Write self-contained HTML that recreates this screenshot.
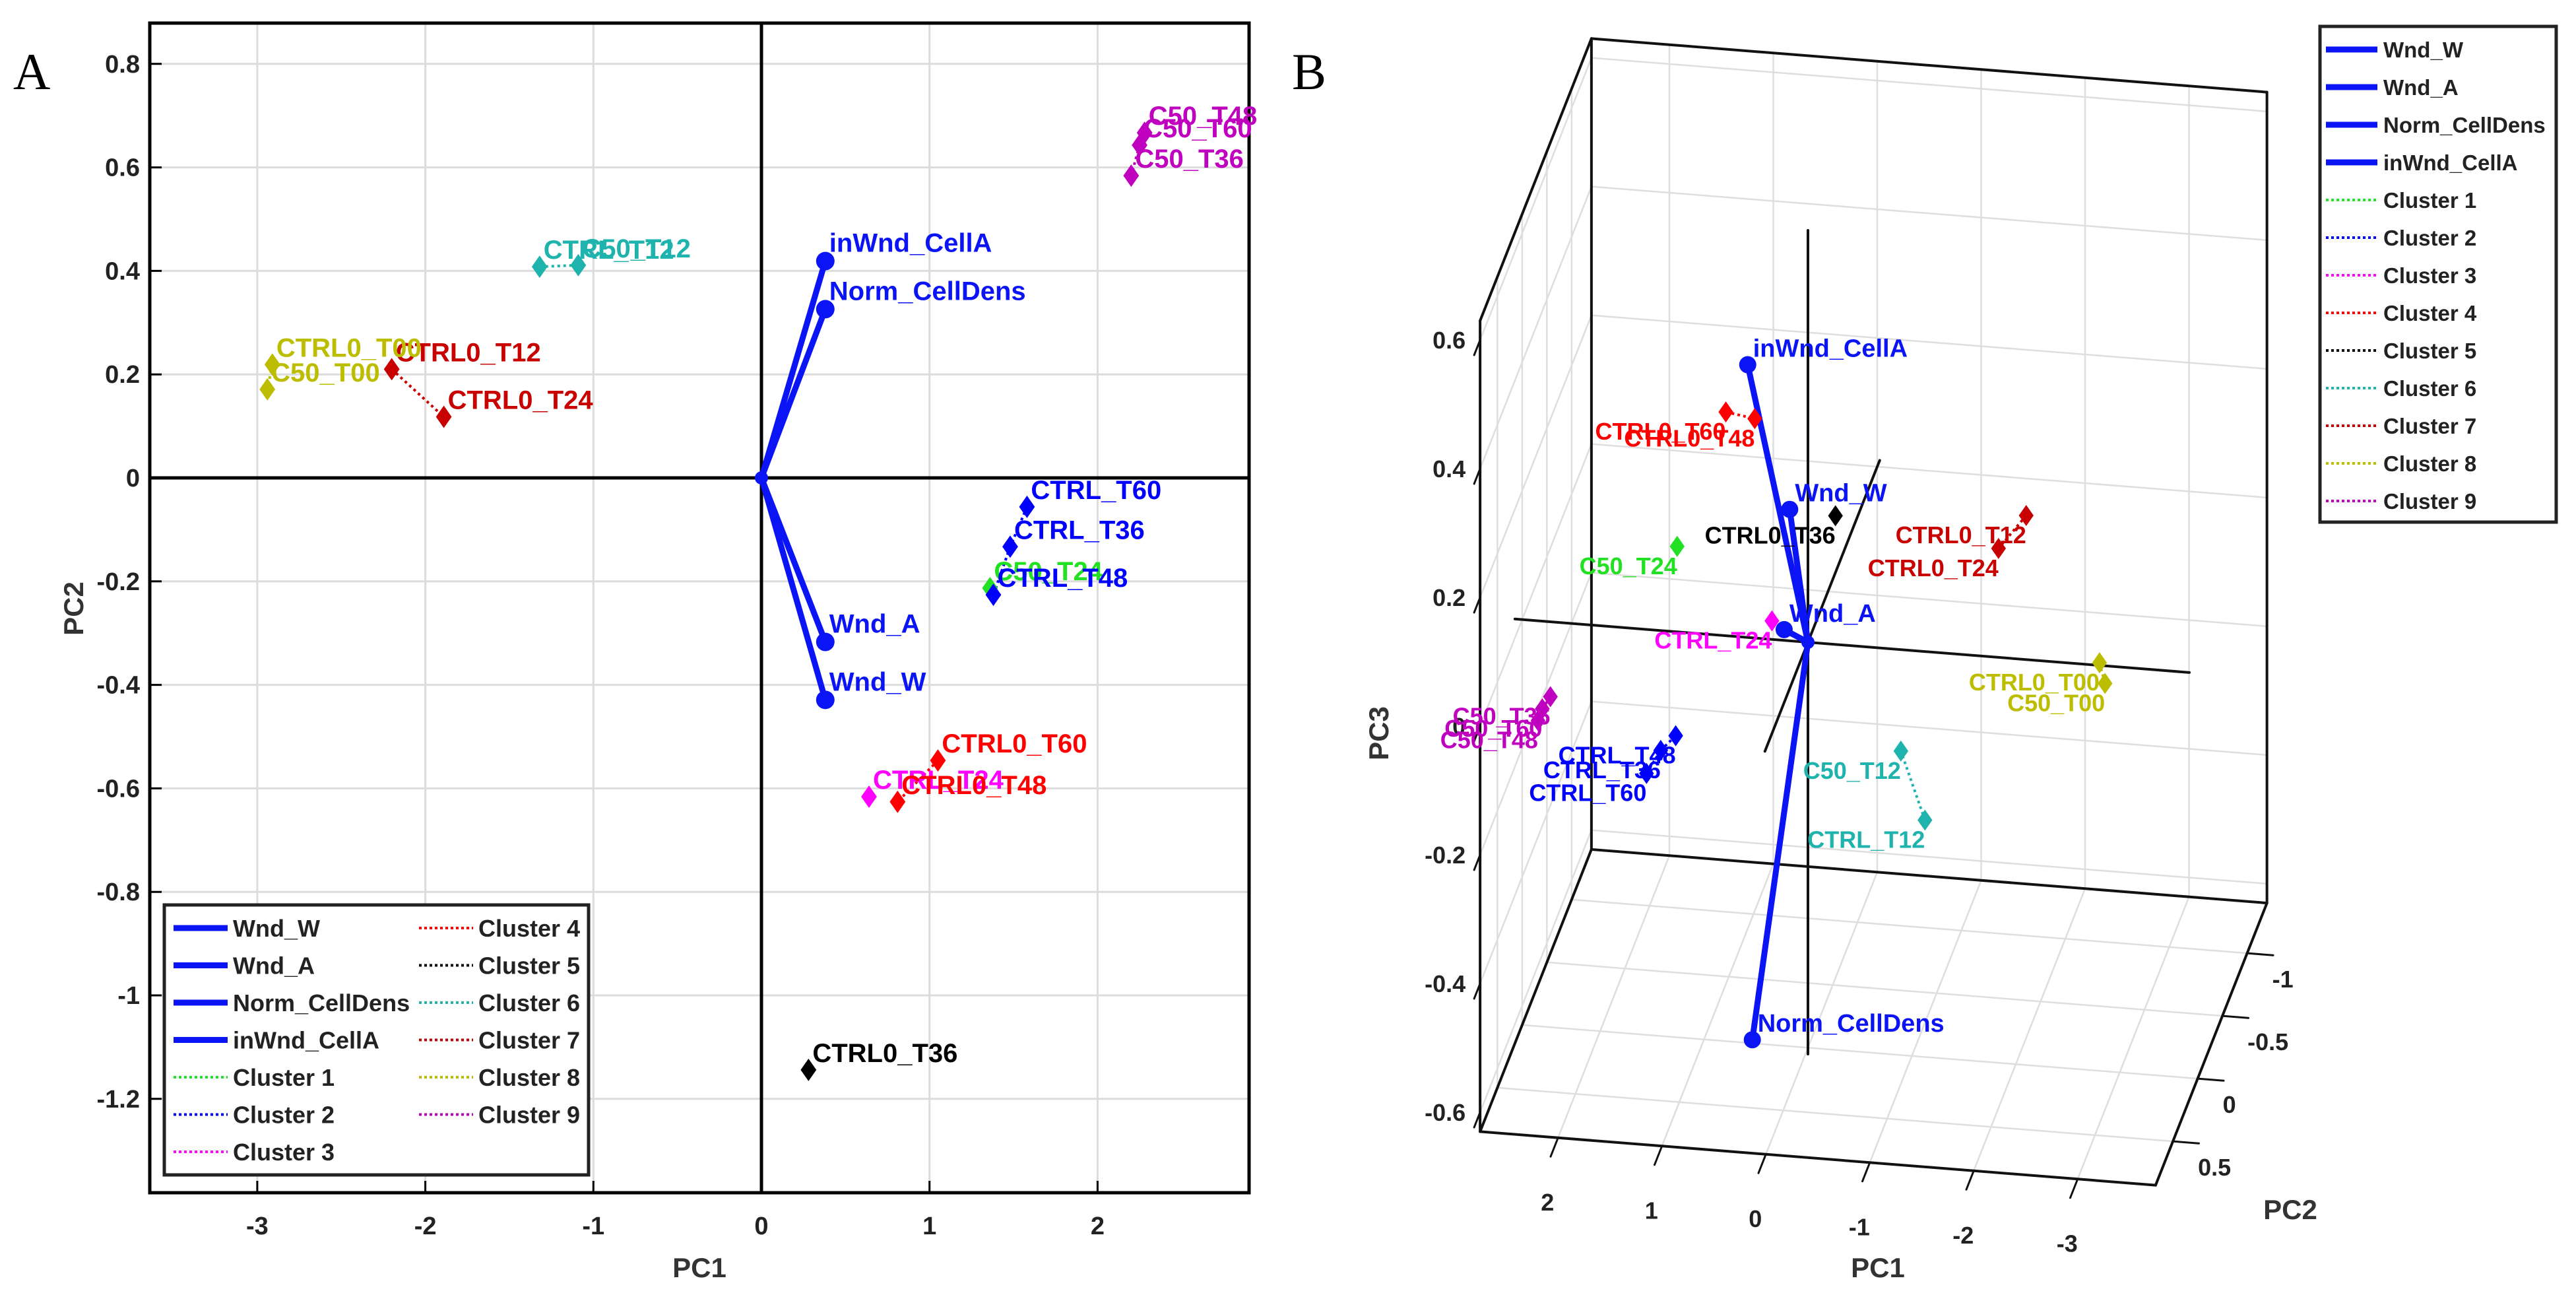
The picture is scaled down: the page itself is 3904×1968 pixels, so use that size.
<!DOCTYPE html>
<html><head><meta charset="utf-8"><style>
html,body{margin:0;padding:0;background:#fff;}
svg{display:block;font-family:"Liberation Sans",sans-serif;}
</style></head><body>
<svg id="chart" width="3904" height="1968" viewBox="0 0 3904 1968" xmlns="http://www.w3.org/2000/svg">
<rect x="0" y="0" width="3904" height="1968" fill="#fff"/>
<text x="20" y="135" font-family="Liberation Serif,serif" font-size="78">A</text>
<text x="1958" y="135" font-family="Liberation Serif,serif" font-size="78">B</text>
</svg>
<script>
// ---------- data ----------
const sampleNames   = ["C50_T24","CTRL_T60","CTRL_T36","CTRL_T48","CTRL_T24","CTRL0_T60","CTRL0_T48","CTRL0_T36","CTRL_T12","C50_T12","CTRL0_T12","CTRL0_T24","CTRL0_T00","C50_T00","C50_T48","C50_T60","C50_T36"];
const sampleCluster = [1,2,2,2,3,4,4,5,6,6,7,7,8,8,9,9,9];
const samplePC1     = [1.36,1.58,1.48,1.38,0.64,1.05,0.81,0.28,-1.32,-1.09,-2.2,-1.89,-2.91,-2.94,2.28,2.25,2.2];
const samplePC2     = [-0.213,-0.056,-0.133,-0.226,-0.616,-0.546,-0.626,-1.144,0.408,0.411,0.21,0.118,0.219,0.171,0.667,0.643,0.584];
const samplePC3     = [0.09,-0.235,-0.213,-0.207,-0.095,0.238,0.215,-0.03,-0.18,-0.075,0.266,0.193,0.048,0.007,-0.021,-0.007,0.001];
const loadingNames  = ["Wnd_W","Wnd_A","Norm_CellDens","inWnd_CellA"];
const loadingPC1    = [0.38,0.38,0.38,0.38];
const loadingPC2    = [-0.429,-0.317,0.326,0.419];
const loadingPC3    = [0.118,-0.047,-0.559,0.508];
const clusterLabels = ["Cluster 1","Cluster 2","Cluster 3","Cluster 4","Cluster 5","Cluster 6","Cluster 7","Cluster 8","Cluster 9"];
const xTicksA = [-3,-2,-1,0,1,2];
const yTicksA = [-1.2,-1,-0.8,-0.6,-0.4,-0.2,0,0.2,0.4,0.6,0.8];
const xTicksB = [-3,-2,-1,0,1,2];
const yTicksB = [-1,-0.5,0,0.5];
const zTicksB = [-0.6,-0.4,-0.2,0,0.2,0.4,0.6];

// palette
const clusterColors = ["#22e022","#0000ff","#ff00ff","#ff0000","#000000","#1fb3ad","#c80000","#bdbd00","#bf00bf"];
const loadColor = "#0a14f5";

const NS = "http://www.w3.org/2000/svg";
const svg = document.getElementById("chart");
function mk(tag, attrs, parent) {
  const e = document.createElementNS(NS, tag);
  for (const k in attrs) e.setAttribute(k, attrs[k]);
  (parent || svg).appendChild(e);
  return e;
}
function fmt(v){ return (Math.round(v*10)/10).toString(); }

// ================= PANEL A =================
const A = {l:227, r:1893, t:35, b:1807};
function xA(v){ return 1154 + 254.7*v; }
function yA(v){ return 724 - 784*v; }
const gA = mk("g", {});



xTicksA.forEach(v => {
  const g = mk("line", {x1:xA(v), x2:xA(v), y1:A.t, y2:A.b, stroke:"#dcdcdc", "stroke-width":3}, gA);
  
  
  const tk = mk("line", {x1:xA(v), x2:xA(v), y1:A.b, y2:A.b-18, stroke:"#000", "stroke-width":3}, gA);
  
  
  const t = mk("text", {x:xA(v), y:1870, "text-anchor":"middle", "font-size":38, "font-weight":"bold", fill:"#222"}, gA);
  t.textContent = fmt(v);
  
  
});
yTicksA.forEach(v => {
  const g = mk("line", {x1:A.l, x2:A.r, y1:yA(v), y2:yA(v), stroke:"#dcdcdc", "stroke-width":3}, gA);
  
  
  const tk = mk("line", {x1:A.l, x2:A.l+18, y1:yA(v), y2:yA(v), stroke:"#000", "stroke-width":3}, gA);
  
  
  const t = mk("text", {x:212, y:yA(v)+13, "text-anchor":"end", "font-size":38, "font-weight":"bold", fill:"#222"}, gA);
  t.textContent = fmt(v);
  
  
});
const zx = mk("line", {x1:A.l, x2:A.r, y1:yA(0), y2:yA(0), stroke:"#000", "stroke-width":5}, gA);


const zy = mk("line", {x1:xA(0), x2:xA(0), y1:A.t, y2:A.b, stroke:"#000", "stroke-width":5}, gA);


const boxA = mk("rect", {x:A.l, y:A.t, width:A.r-A.l, height:A.b-A.t, fill:"none", stroke:"#000", "stroke-width":5}, gA);


const xlab = mk("text", {x:1060, y:1935, "text-anchor":"middle", "font-size":42, "font-weight":"bold", fill:"#333"}, gA);
xlab.textContent = "PC1";


const ylab = mk("text", {x:0, y:0, "text-anchor":"middle", "font-size":42, "font-weight":"bold", fill:"#333", transform:"translate(126,922) rotate(-90)"}, gA);
ylab.textContent = "PC2";



function diamond(cx, cy, s, color, parent) {
  return mk("polygon", {points:`${cx},${cy-s} ${cx+s*0.7},${cy} ${cx},${cy+s} ${cx-s*0.7},${cy}`, fill:color}, parent);
}
function clusterLines(px, py, parent) {
  for (let c = 1; c <= 9; c++) {
    const idx = sampleCluster.map((k,i)=>k===c?i:-1).filter(i=>i>=0);
    for (let j = 1; j < idx.length; j++) {
      const l = mk("line", {x1:px(idx[j-1]), y1:py(idx[j-1]), x2:px(idx[j]), y2:py(idx[j]), stroke:clusterColors[c-1], "stroke-width":4, "stroke-dasharray":"4,5"}, parent);
      
      
    }
  }
}
// loadings A
loadingNames.forEach((n,i) => {
  const l = mk("line", {x1:xA(0), y1:yA(0), x2:xA(loadingPC1[i]), y2:yA(loadingPC2[i]), stroke:loadColor, "stroke-width":9, "stroke-linecap":"round"}, gA);
  
  
  const d = mk("circle", {cx:xA(loadingPC1[i]), cy:yA(loadingPC2[i]), r:14, fill:loadColor}, gA);
  
  
  const t = mk("text", {x:xA(loadingPC1[i])+6, y:yA(loadingPC2[i])-14, "font-size":40, "font-weight":"bold", fill:loadColor}, gA);
  t.textContent = n;
  
  
});
const o1 = mk("circle", {cx:xA(0), cy:yA(0), r:10, fill:loadColor}, gA);


clusterLines(i=>xA(samplePC1[i]), i=>yA(samplePC2[i]), gA);
sampleNames.forEach((n,i) => {
  const col = clusterColors[sampleCluster[i]-1];
  const d = diamond(xA(samplePC1[i]), yA(samplePC2[i]), 17, col, gA);
  
  
  const t = mk("text", {x:xA(samplePC1[i])+6, y:yA(samplePC2[i])-12, "font-size":40, "font-weight":"bold", fill:col}, gA);
  t.textContent = n;
  
  
});
// legend A
const legA = mk("g", {});


const lbA = mk("rect", {x:249, y:1371, width:643, height:409, fill:"#fff", stroke:"#222", "stroke-width":5}, legA);


const legItemsA = loadingNames.concat(clusterLabels);
legItemsA.forEach((n,i) => {
  const col = i < 7 ? 0 : 1;
  const row = i < 7 ? i : i - 7;
  const y = 1406 + row*56.5;
  const lx = col ? 635 : 263;
  const isLoad = i < 4;
  const color = isLoad ? loadColor : clusterColors[i-4];
  const l = mk("line", {x1:lx, x2:lx+82, y1:y, y2:y, stroke:color, "stroke-width":isLoad?9:4, "stroke-dasharray":isLoad?"none":"4,4"}, legA);
  
  
  const t = mk("text", {x:lx+90, y:y+13, "font-size":36, "font-weight":"bold", fill:"#222"}, legA);
  t.textContent = n;
  
  
});

// ================= PANEL B (3D) =================
const xr = [-3.75, 2.75], yr = [-1.4, 0.85], zr = [-0.63, 0.63];
function P(x,y,z){ return [2740 - 157.5*x - 75*y, 973 - 12.5*x + 190*y - 975*z]; }
const gB = mk("g", {});


function seg(a, b, stroke, w, name, parent) {
  const pa = P(...a), pb = P(...b);
  const l = mk("line", {x1:pa[0], y1:pa[1], x2:pb[0], y2:pb[1], stroke:stroke, "stroke-width":w, "stroke-linecap":"round"}, parent||gB);
  
  
  return l;
}
const [x0,x1] = xr, [y0,y1] = yr, [z0,z1] = zr;
const gc = "#dedede";
xTicksB.forEach(v => { seg([v,y0,z0],[v,y0,z1],gc,2.5,'back-wall-gridline'); seg([v,y0,z0],[v,y1,z0],gc,2.5,'floor-gridline'); });
zTicksB.forEach(v => { seg([x0,y0,v],[x1,y0,v],gc,2.5,'back-wall-gridline'); seg([x1,y0,v],[x1,y1,v],gc,2.5,'side-wall-gridline'); });
yTicksB.forEach(v => { seg([x1,v,z0],[x1,v,z1],gc,2.5,'side-wall-gridline'); seg([x0,v,z0],[x1,v,z0],gc,2.5,'floor-gridline'); });
// box edges
[[[x1,y0,z0],[x0,y0,z0]],[[x0,y0,z0],[x0,y0,z1]],[[x0,y0,z1],[x1,y0,z1]],[[x1,y0,z1],[x1,y0,z0]],
 [[x1,y0,z1],[x1,y1,z1]],[[x1,y1,z1],[x1,y1,z0]],[[x1,y1,z0],[x0,y1,z0]],[[x0,y1,z0],[x0,y0,z0]],[[x1,y1,z0],[x1,y0,z0]]]
 .forEach(e => seg(e[0], e[1], "#111", 4, 'box-edge'));
// ticks + labels
zTicksB.forEach(v => {
  seg([x1,y1,v],[x1,y1+0.12,v],"#111",3,'z-tick');
  const p = P(x1,y1,v);
  const t = mk("text", {x:p[0]-22, y:p[1]+13, "text-anchor":"end", "font-size":36, "font-weight":"bold", fill:"#222"}, gB);
  t.textContent = fmt(v);
  
  
});
xTicksB.forEach(v => {
  seg([v,y1,z0],[v,y1+0.15,z0],"#111",3,'x-tick');
  const p = P(v,y1,z0);
  const t = mk("text", {x:p[0]-16, y:p[1]+110, "text-anchor":"middle", "font-size":36, "font-weight":"bold", fill:"#222"}, gB);
  t.textContent = fmt(v);
  
  
});
yTicksB.forEach(v => {
  seg([x0,v,z0],[x0-0.25,v,z0],"#111",3,'y-tick');
  const p = P(x0,v,z0);
  const t = mk("text", {x:p[0]+38, y:p[1]+52, "text-anchor":"start", "font-size":36, "font-weight":"bold", fill:"#222"}, gB);
  t.textContent = fmt(v);
  
  
});
const b1 = mk("text", {x:2846, y:1935, "text-anchor":"middle", "font-size":42, "font-weight":"bold", fill:"#333"}, gB);
b1.textContent = "PC1";


const b2 = mk("text", {x:3471, y:1847, "text-anchor":"middle", "font-size":42, "font-weight":"bold", fill:"#333"}, gB);
b2.textContent = "PC2";


const b3 = mk("text", {x:0, y:0, "text-anchor":"middle", "font-size":42, "font-weight":"bold", fill:"#333", transform:"translate(2104,1111) rotate(-90)"}, gB);
b3.textContent = "PC3";


// origin axes
seg([-3.67,0,0],[2.82,0,0],"#111",4,'pc1-axis-line');
seg([0,-1.45,0],[0,0.87,0],"#111",4,'pc2-axis-line');
seg([0,0,-0.64],[0,0,0.64],"#111",4,'pc3-axis-line');
// loadings B
loadingNames.forEach((n,i) => {
  seg([0,0,0],[loadingPC1[i],loadingPC2[i],loadingPC3[i]],loadColor,9,'loading-vector');
  const p = P(loadingPC1[i],loadingPC2[i],loadingPC3[i]);
  const d = mk("circle", {cx:p[0], cy:p[1], r:13, fill:loadColor}, gB);
  
  
  const t = mk("text", {x:p[0]+8, y:p[1]-12, "font-size":38, "font-weight":"bold", fill:loadColor}, gB);
  t.textContent = n;
  
  
});
const o2p = P(0,0,0);
const o2 = mk("circle", {cx:o2p[0], cy:o2p[1], r:10, fill:loadColor}, gB);


clusterLines(i=>P(samplePC1[i],samplePC2[i],samplePC3[i])[0], i=>P(samplePC1[i],samplePC2[i],samplePC3[i])[1], gB);
sampleNames.forEach((n,i) => {
  const col = clusterColors[sampleCluster[i]-1];
  const p = P(samplePC1[i],samplePC2[i],samplePC3[i]);
  const d = diamond(p[0], p[1], 16, col, gB);
  
  
  const t = mk("text", {x:p[0], y:p[1]+42, "text-anchor":"end", "font-size":36, "font-weight":"bold", fill:col}, gB);
  t.textContent = n;
  
  
});
// legend B
const legB = mk("g", {});


const lbB = mk("rect", {x:3516, y:40, width:358, height:751, fill:"#fff", stroke:"#222", "stroke-width":5}, legB);


legItemsA.forEach((n,i) => {
  const y = 75 + i*57;
  const isLoad = i < 4;
  const color = isLoad ? loadColor : clusterColors[i-4];
  const l = mk("line", {x1:3525, x2:3603, y1:y, y2:y, stroke:color, "stroke-width":isLoad?9:4, "stroke-dasharray":isLoad?"none":"4,4"}, legB);
  
  
  const t = mk("text", {x:3612, y:y+12, "font-size":33, "font-weight":"bold", fill:"#222"}, legB);
  t.textContent = n;
  
  
});
</script>
</body></html>
